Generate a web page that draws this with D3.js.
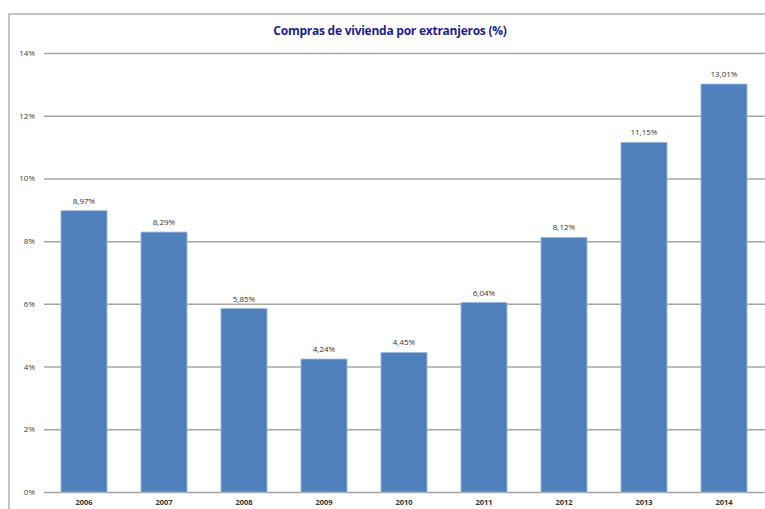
<!DOCTYPE html>
<html>
<head>
<meta charset="utf-8">
<script src="https://cdn.jsdelivr.net/npm/d3@7"></script>
<style>
  html, body { margin: 0; padding: 0; background: #fff; }
  svg { display: block; font-family: "Open Sans", "Noto Sans", sans-serif; }
</style>
</head>
<body>
<div id="chart"></div>
<script>
// Compras de vivienda por extranjeros (%)
const years = ['2006', '2007', '2008', '2009', '2010', '2011', '2012', '2013', '2014'];
const values = [8.97, 8.29, 5.85, 4.24, 4.45, 6.04, 8.12, 11.15, 13.01];
const yTicks = [0, 2, 4, 6, 8, 10, 12, 14];

const W = 765, H = 509;
const plot = { left: 44, right: 764, top: 53, bottom: 492 };

const svg = d3.select('#chart').append('svg')
    .attr('width', W)
    .attr('height', H);

// chart frame (cropped on the right and bottom)
svg.append('path')
    .attr('d', `M 9 ${H} L 9 14 L ${W} 14`)
    .attr('fill', 'none')
    .attr('stroke', '#c4c4c4')
    .attr('stroke-width', 2);

svg.append('text')
    .attr('x', 390).attr('y', 35)
    .attr('text-anchor', 'middle')
    .attr('font-size', '12px')
    .attr('font-weight', '700')
    .attr('letter-spacing', '-0.25px')
    .attr('fill', '#1c1c96')
    .text('Compras de vivienda por extranjeros (%)');

const x = d3.scaleBand()
    .domain(years)
    .range([plot.left, plot.right])
    .paddingInner(0.425)
    .paddingOuter(0.2125);

const y = d3.scaleLinear()
    .domain([0, 14])
    .range([plot.bottom, plot.top]);

// gridlines + y labels
const yAxis = d3.axisLeft(y)
    .tickValues(yTicks)
    .tickSize(-(W - plot.left))
    .tickPadding(9)
    .tickFormat(d => d + '%');

const gy = svg.append('g')
    .attr('transform', `translate(${plot.left},0)`)
    .call(yAxis);
gy.select('.domain').remove();
gy.selectAll('.tick line')
    .attr('stroke', '#a6a6a6')
    .attr('stroke-width', 1.5);
gy.selectAll('.tick text')
    .attr('font-size', '8px')
    .attr('fill', '#404040')
    .attr('font-family', '"Open Sans", sans-serif');

// bars
svg.append('g').selectAll('rect')
    .data(values)
    .join('rect')
    .attr('x', (d, i) => x(years[i]))
    .attr('y', d => y(d))
    .attr('width', x.bandwidth())
    .attr('height', d => y(0) - y(d))
    .attr('fill', '#4f81bd')
    .attr('stroke', '#9bb8dc')
    .attr('stroke-width', 0.8);

// value labels
svg.append('g').selectAll('text')
    .data(values)
    .join('text')
    .attr('x', (d, i) => x(years[i]) + x.bandwidth() / 2)
    .attr('y', d => y(d) - 7)
    .attr('text-anchor', 'middle')
    .attr('font-size', '8px')
    .attr('fill', '#333')
    .text(d => d.toFixed(2).replace('.', ',') + '%');

// x axis labels
const xAxis = d3.axisBottom(x).tickSize(0).tickPadding(8);
const gx = svg.append('g')
    .attr('transform', `translate(0,${plot.bottom})`)
    .call(xAxis);
gx.select('.domain').remove();
gx.selectAll('.tick text')
    .attr('font-size', '7.5px')
    .attr('font-weight', '700')
    .attr('fill', '#333')
    .attr('font-family', '"Open Sans", sans-serif');
</script>
</body>
</html>
